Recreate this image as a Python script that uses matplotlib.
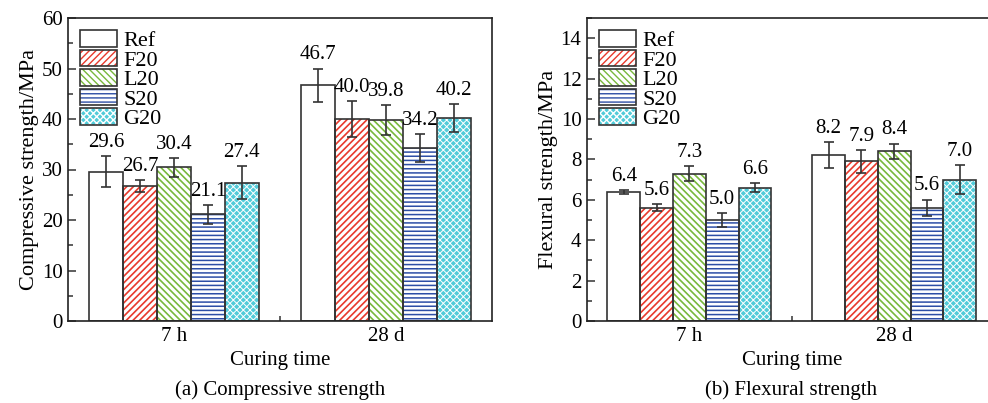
import numpy as np
import matplotlib
matplotlib.use("Agg")
import matplotlib.pyplot as plt
from matplotlib.patches import Patch
from matplotlib.legend_handler import HandlerTuple
from matplotlib.ticker import MultipleLocator, FixedLocator

# ---------------- data ----------------
groups = ["7 h", "28 d"]
series = ["Ref", "F20", "L20", "S20", "G20"]

comp_vals = {
    "Ref": [29.6, 46.7],
    "F20": [26.7, 40.0],
    "L20": [30.4, 39.8],
    "S20": [21.1, 34.2],
    "G20": [27.4, 40.2],
}
comp_err = {
    "Ref": [3.1, 3.3],
    "F20": [1.2, 3.6],
    "L20": [1.8, 2.9],
    "S20": [1.8, 2.8],
    "G20": [3.2, 2.8],
}
flex_vals = {
    "Ref": [6.4, 8.2],
    "F20": [5.6, 7.9],
    "L20": [7.3, 8.4],
    "S20": [5.0, 5.6],
    "G20": [6.6, 7.0],
}
flex_err = {
    "Ref": [0.10, 0.65],
    "F20": [0.17, 0.56],
    "L20": [0.35, 0.38],
    "S20": [0.35, 0.41],
    "G20": [0.23, 0.73],
}

# ---------------- styles ----------------
styles = {
    "Ref": dict(face="white", hatch=None, hcol="white", hlw=1.0),
    "F20": dict(face="white", hatch="/////", hcol="#e8392c", hlw=1.2),
    "L20": dict(face="white", hatch="\\\\\\\\\\", hcol="#78b83c", hlw=1.2),
    "S20": dict(face="white", hatch="----", hcol="#2d4ea6", hlw=1.1),
    "G20": dict(face="#52cbd9", hatch="xxxxx", hcol="white", hlw=0.7),
}
EDGE = "#333333"

plt.rcParams["font.family"] = ["Liberation Serif", "DejaVu Serif"]

fig = plt.figure(figsize=(9.88, 4.03), dpi=100)
W, H = 988.0, 403.0
bottom_px, top_px = 321, 18
ax1 = fig.add_axes([68 / W, 1 - bottom_px / H, (492 - 68) / W, (bottom_px - top_px) / H])
ax2 = fig.add_axes([587 / W, 1 - bottom_px / H, (996.5 - 587) / W, (bottom_px - top_px) / H])

width = 0.16
x = np.arange(len(groups))
FS = 15


def draw(ax, vals, errs, ylim, major, minor, ylabel, caption, cx):
    handles = []
    for i, s in enumerate(series):
        st = styles[s]
        pos = x + (i - 2) * width
        v = vals[s]
        e = errs[s]
        with plt.rc_context({"hatch.linewidth": st["hlw"]}):
            ax.bar(pos, v, width, color=st["face"], hatch=st["hatch"],
                   edgecolor=st["hcol"], linewidth=0, zorder=2)
            h1 = Patch(facecolor=st["face"], hatch=st["hatch"], edgecolor=st["hcol"], linewidth=0)
        ax.bar(pos, v, width, fill=False, edgecolor=EDGE, linewidth=1.2, zorder=3)
        ax.errorbar(pos, v, yerr=e, fmt="none", ecolor=EDGE, elinewidth=1.2,
                    capsize=3.5, capthick=1.2, zorder=4)
        for p, vv, ee in zip(pos, v, e):
            ax.annotate(f"{vv:.1f}", (p, vv + ee), xytext=(0, 3),
                        textcoords="offset points", ha="center", va="bottom",
                        fontsize=FS, zorder=5)
        h2 = Patch(fill=False, edgecolor=EDGE, linewidth=1.2)
        handles.append((h1, h2))
    ax.set_xlim(-0.5, 1.5)
    ax.set_ylim(*ylim)
    ax.yaxis.set_major_locator(MultipleLocator(major))
    ax.yaxis.set_minor_locator(MultipleLocator(minor))
    ax.set_xticks(x)
    ax.set_xticklabels(groups)
    ax.xaxis.set_minor_locator(FixedLocator([0.5]))
    ax.tick_params(which="major", direction="in", length=6, width=1.1,
                   labelsize=FS, color=EDGE, top=False, right=False, pad=4)
    ax.tick_params(which="minor", direction="in", length=3.5, width=1.1,
                   color=EDGE, top=False, right=False)
    for sp in ax.spines.values():
        sp.set_linewidth(1.2)
        sp.set_color("#222222")
        sp.set_zorder(6)
    ax.set_ylabel(ylabel, fontsize=FS + 1, labelpad=2)
    ax.set_xlabel("Curing time", fontsize=FS, labelpad=4)
    leg = ax.legend(handles, series, loc="upper left", frameon=False,
                    fontsize=FS + 1, handlelength=1.65, handleheight=0.75,
                    labelspacing=-0.06, handletextpad=0.3, borderaxespad=0.25,
                    borderpad=0.3,
                    handler_map={tuple: HandlerTuple(ndivide=1)})
    leg.set_zorder(7)
    fig.text(cx / W, 1 - 390 / H, caption, ha="center", va="center", fontsize=FS)


draw(ax1, comp_vals, comp_err, (0, 60), 10, 5,
     "Compressive strength/MPa", "(a) Compressive strength", 280)
draw(ax2, flex_vals, flex_err, (0, 15), 2, 1,
     "Flexural strength/MPa", "(b) Flexural strength", 791)
ax2.set_yticks(np.arange(0, 15, 2))

fig.savefig("out.png", dpi=100)
